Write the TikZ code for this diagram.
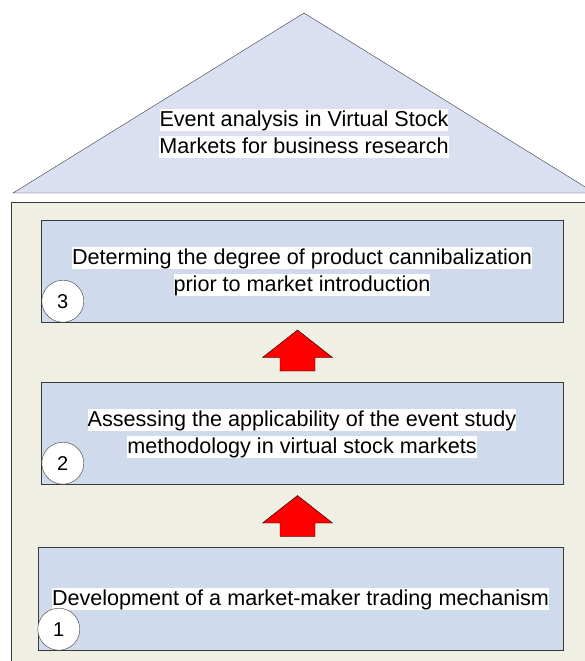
\documentclass[tikz,border=0pt]{standalone}
\usepackage{fontspec}
\setmainfont{Liberation Sans}
\usetikzlibrary{positioning}
\definecolor{roofblue}{HTML}{DAE0F1}
\definecolor{boxblue}{HTML}{CFDAEC}
\definecolor{wallbeige}{HTML}{EFEFE3}
\definecolor{edgegray}{HTML}{3A3A3A}
\newcommand{\hl}[1]{{\setlength{\fboxsep}{0pt}\colorbox{white}{\rule[-4.5pt]{0pt}{22pt}#1}}}

\begin{document}
\begin{tikzpicture}[x=1pt, y=-1pt,
        etapa/.style={rectangle, draw=edgegray, fill=boxblue, minimum width=522pt, minimum height=102pt,
                      inner sep=0pt, align=center, font=\fontsize{21.6}{27}\selectfont},
        num/.style={circle, draw=edgegray, fill=white, minimum size=42pt, inner sep=0pt,
                    font=\fontsize{20}{23}\selectfont},
        setacima/.pic={\draw[black, fill=red] (-17.5,20.5) -- (-17.5,7) -- (-35,7) -- (0,-20.5)
                       -- (35,7) -- (17.5,7) -- (17.5,20.5) -- cycle;}
    ]
    \useasboundingbox (0,0) rectangle (585,661);
    \clip (0,0) rectangle (585,661);
    % Telhado e parede
    \draw[edgegray, fill=roofblue] (13,193) -- (304,13) -- (595,193) -- cycle;
    \draw[edgegray, fill=wallbeige] (11,202) rectangle (600,670);
    \node[align=center, font=\fontsize{21.6}{27}\selectfont] (titulo) at (304,133)
        {\hl{Event analysis in Virtual Stock}\\ \hl{Markets for business research}};
    % Etapas
    \node[etapa] (etapa3) at (302,271) {\hl{Determing the degree of product cannibalization}\\ \hl{prior to market introduction}};
    \node[etapa] (etapa2) at (302,433) {\hl{Assessing the applicability of the event study}\\ \hl{methodology in virtual stock markets}};
    \node[etapa, minimum width=525pt, minimum height=103pt] (etapa1) at (300.5,598.5) {\hl{Development of a market-maker trading mechanism}};
    \node[num] (n3) at ([xshift=22pt, yshift=21pt]etapa3.south west) {3};
    \node[num] (n2) at ([xshift=22pt, yshift=21pt]etapa2.south west) {2};
    \node[num] (n1) at ([xshift=21pt, yshift=21pt]etapa1.south west) {1};
    % Setas entre etapas
    \pic (seta32) at (297.5,350.5) {setacima};
    \pic (seta21) at (297.5,516) {setacima};
\end{tikzpicture}
\end{document}
